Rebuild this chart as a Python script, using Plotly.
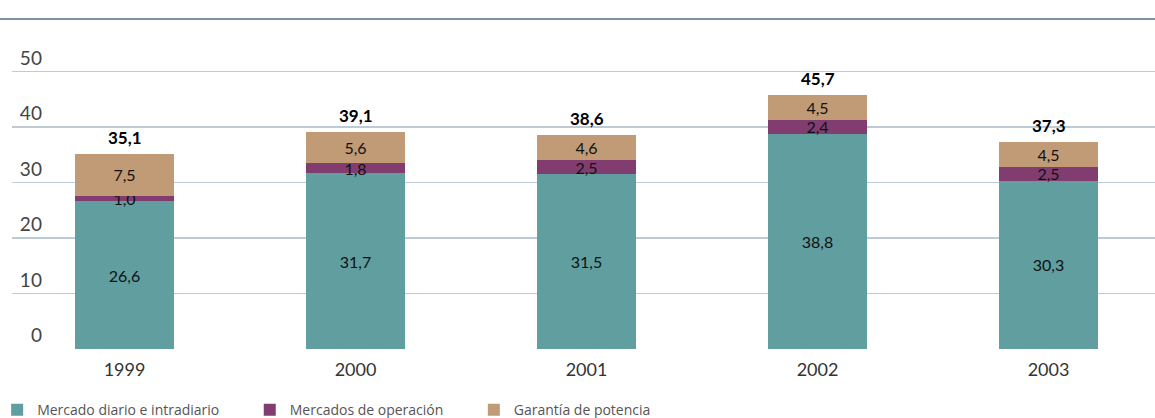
import plotly.graph_objects as go

years = ["1999", "2000", "2001", "2002", "2003"]
diario = [26.6, 31.7, 31.5, 38.8, 30.3]
operacion = [1.0, 1.8, 2.5, 2.4, 2.5]
garantia = [7.5, 5.6, 4.6, 4.5, 4.5]
totales = [35.1, 39.1, 38.6, 45.7, 37.3]
y_ticks = [0, 10, 20, 30, 40, 50]

names = ["Mercado diario e intradiario", "Mercados de operación", "Garantía de potencia"]
colors = ["#609e9f", "#813d6f", "#c19b75"]
pad = "\u00a0" * 7

def fmt(v):
    return f"{v:.1f}".replace(".", ",")

fig = go.Figure()
for name, vals, col in zip(names, [diario, operacion, garantia], colors):
    fig.add_trace(go.Bar(
        x=years, y=vals, name=name + pad, marker=dict(color=col, line=dict(width=0)),
        width=0.43, text=[fmt(v) for v in vals], textposition="inside",
        insidetextanchor="middle", textangle=0,
        textfont=dict(family="Lato", size=16, color="#111111"),
        cliponaxis=False, hoverinfo="skip",
    ))

for i, tot in enumerate(totales):
    fig.add_annotation(x=i, y=tot, xref="x", yref="y", text="<b>" + fmt(tot) + "</b>",
                       showarrow=False, yanchor="bottom", yshift=4,
                       font=dict(family="Lato", size=17, color="#000000"))

tick_text = ["\u00a0" + str(t).rjust(2, "\u2007") for t in y_ticks]

fig.update_layout(
    barmode="stack",
    width=1155, height=418,
    margin=dict(l=12, r=0, t=27, b=69, pad=0, autoexpand=False),
    plot_bgcolor="white", paper_bgcolor="white",
    font=dict(family="Lato", color="#333333"),
    uniformtext=dict(minsize=16, mode="show"),
    showlegend=True,
    legend=dict(orientation="h", x=-0.013, xanchor="left", y=-0.19, yanchor="middle",
                font=dict(family="Open Sans", size=14, color="#555555"),
                traceorder="normal", itemwidth=30, bgcolor="rgba(0,0,0,0)"),
    xaxis=dict(type="category", range=[-0.487, 4.461], showgrid=False, showline=False,
               ticks="", automargin=False, ticklabelstandoff=8,
               tickfont=dict(family="Lato", size=18, color="#333333")),
    yaxis=dict(range=[0, 58], tickvals=y_ticks, ticktext=tick_text,
               showgrid=True, gridcolor="#bccbd6", gridwidth=1.5, zeroline=False,
               ticklabelposition="inside top", ticks="", automargin=False,
               tickfont=dict(family="Lato", size=19, color="#444444")),
    shapes=[dict(type="line", xref="paper", yref="paper", x0=-0.02, x1=1.01,
                 y0=1 + 8 / 322, y1=1 + 8 / 322,
                 line=dict(color="#7a95a8", width=2))],
)

fig.write_html("out.html", config={"displayModeBar": False, "staticPlot": True},
               post_script="document.body.style.margin='0';document.body.style.overflow='hidden';")
